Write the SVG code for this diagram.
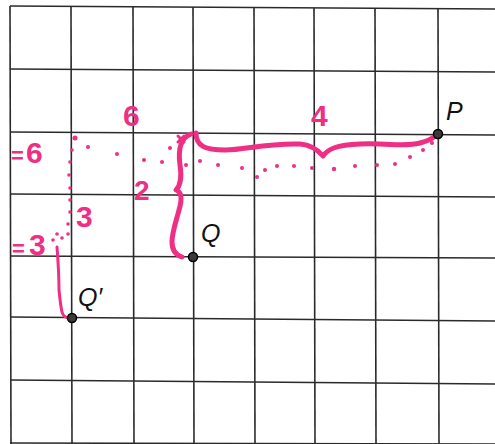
<svg xmlns="http://www.w3.org/2000/svg" width="495" height="444" viewBox="0 0 495 444">
<style>
.grid{stroke:#2a2a2a;stroke-width:1.6;fill:none}
.pk{stroke:#ee2f84;fill:none;stroke-linecap:round;stroke-linejoin:round}
.pd{fill:#ee2f84}
.pt{fill:#ee2f84;font-family:"Liberation Sans",sans-serif;font-weight:bold}
.lbl{fill:#111;font-family:"Liberation Sans",sans-serif;font-style:italic;font-size:25px}
.pt-dot{fill:#3a3a3a;stroke:#000;stroke-width:1.5}
</style>
<rect width="495" height="444" fill="#fff"/>
<g id="grid" class="grid">
<line x1="10" y1="6" x2="495" y2="9"/>
<line x1="10" y1="69" x2="495" y2="72"/>
<line x1="10" y1="132" x2="495" y2="135"/>
<line x1="10" y1="194" x2="495" y2="197"/>
<line x1="10" y1="256" x2="495" y2="258"/>
<line x1="10" y1="317" x2="495" y2="321"/>
<line x1="10" y1="380" x2="495" y2="384"/>
<line x1="10" y1="443" x2="495" y2="444"/>
<line x1="10" y1="6" x2="11" y2="444"/>
<line x1="71" y1="7" x2="72" y2="444"/>
<line x1="133" y1="7" x2="134" y2="444"/>
<line x1="193" y1="7" x2="194" y2="444"/>
<line x1="254" y1="7" x2="255" y2="444"/>
<line x1="314" y1="8" x2="315" y2="444"/>
<line x1="375" y1="8" x2="376" y2="444"/>
<line x1="438" y1="9" x2="439" y2="444"/>
</g>
<g id="connectors">
<path class="pk" stroke-width="5" d="M196,133 C196,146 205,150 225,150 C245,150 265,143 300,144 C312,145 318,150 323,156 C328,149 336,145 360,144 C390,143 405,147 420,143 C428,141 432,139 435,136"/>
<path class="pk" stroke-width="5" d="M191,134 C180,138 178,150 180,165 C182,178 180,186 176,190 C182,192 182,200 179,210 C176,222 172,232 172,242 C172,250 176,255 182,257"/>
<path class="pk" stroke-width="3" d="M57,247 C58,260 59,275 59,290 C60,300 61,308 62,312 C63,316 66,318 70,318"/>
<path class="pk" stroke-width="3" d="M178,136 l6,6 M184,136 l-6,6"/>
<g class="pd">
<circle cx="75" cy="138" r="2.5"/><circle cx="88" cy="147" r="2"/><circle cx="117" cy="154" r="2"/>
<circle cx="144" cy="160" r="2"/><circle cx="162" cy="162" r="2"/><circle cx="170" cy="148" r="2"/>
<circle cx="186" cy="165" r="2"/><circle cx="200" cy="161" r="2"/><circle cx="218" cy="165" r="2"/>
<circle cx="242" cy="168" r="2"/><circle cx="257" cy="177" r="2"/><circle cx="265" cy="170" r="2"/>
<circle cx="277" cy="166" r="2"/><circle cx="294" cy="166" r="2"/><circle cx="312" cy="168" r="2"/>
<circle cx="334" cy="169" r="2.2"/><circle cx="355" cy="166" r="2"/><circle cx="377" cy="165" r="2"/>
<circle cx="395" cy="164" r="2"/><circle cx="410" cy="157" r="2"/><circle cx="423" cy="150" r="2"/>
<circle cx="432" cy="143" r="2"/>
<circle cx="72" cy="150" r="1.8"/><circle cx="70" cy="162" r="1.8"/><circle cx="69" cy="175" r="1.8"/>
<circle cx="70" cy="188" r="1.8"/><circle cx="70" cy="200" r="1.8"/><circle cx="70" cy="212" r="1.8"/>
<circle cx="68" cy="224" r="1.8"/><circle cx="68" cy="234" r="1.8"/>
<circle cx="57" cy="234" r="1.8"/><circle cx="53" cy="240" r="1.8"/><circle cx="62" cy="238" r="1.8"/>
</g>
<text class="pt" x="123" y="126" font-size="30">6</text>
<text class="pt" x="311" y="126" font-size="30">4</text>
<text class="pt" x="134" y="200" font-size="28">2</text>
<text class="pt" x="76" y="227" font-size="30">3</text>
<text class="pt" x="26" y="163" font-size="30">6</text>
<text class="pt" x="11" y="163" font-size="22">=</text>
<text class="pt" x="29" y="255" font-size="30">3</text>
<text class="pt" x="12" y="256" font-size="22">=</text>
</g>
<g id="P"><circle class="pt-dot" cx="438" cy="134" r="4.5"/><text class="lbl" x="446" y="120">P</text></g>
<g id="Q"><circle class="pt-dot" cx="193" cy="257" r="4.5"/><text class="lbl" x="201" y="242">Q</text></g>
<g id="Qprime"><circle class="pt-dot" cx="72" cy="318" r="4.5"/><text class="lbl" x="78" y="306">Q′</text></g>
</svg>
